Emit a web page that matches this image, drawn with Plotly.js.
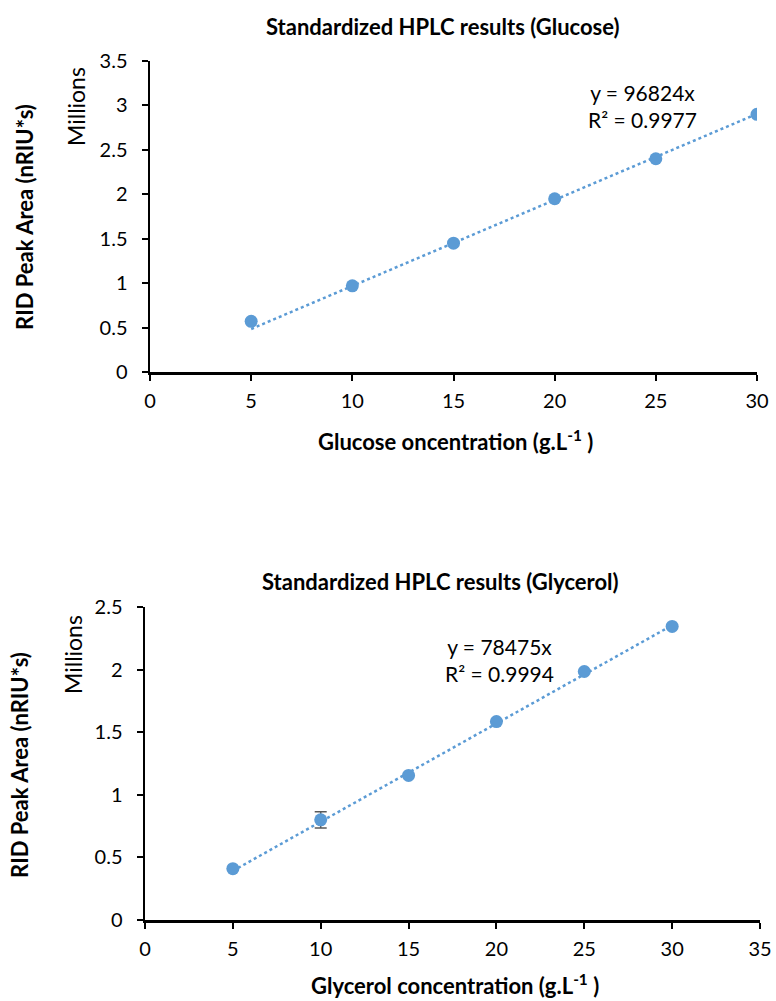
<!DOCTYPE html>
<html><head><meta charset="utf-8">
<script src="https://cdn.plot.ly/plotly-3.0.1.min.js"></script>
<style>html,body{margin:0;padding:0;background:#fff}</style>
</head><body><div id="chart" style="width:776px;height:1001px"></div>
<script>
// Glucose data (peak area in millions)
const glucoseConc = [5, 10, 15, 20, 25, 30];
const glucoseArea = [0.57, 0.97, 1.45, 1.95, 2.40, 2.90];
const glucoseSlope = 96824;   // trendline y = 96824x
const glucoseR2 = "0.9977";

// Glycerol data (peak area in millions)
const glycerolConc = [5, 10, 15, 20, 25, 30];
const glycerolArea = [0.41, 0.80, 1.155, 1.585, 1.985, 2.345];
const glycerolErr = [0, 0.065, 0, 0, 0, 0];
const glycerolSlope = 78475;  // trendline y = 78475x
const glycerolR2 = "0.9994";

const trendX = [5, 30];
const blue = '#5B9BD5';
const FONT = 'Lato, sans-serif';

const traces = [
  {x: trendX, y: trendX.map(v => v*glucoseSlope/1e6), xaxis:'x', yaxis:'y', mode:'lines',
   line:{color:blue, width:2.5, dash:'dot'}, hoverinfo:'skip'},
  {x: glucoseConc, y: glucoseArea, xaxis:'x', yaxis:'y', mode:'markers',
   marker:{color:blue, size:13}},
  {x: trendX, y: trendX.map(v => v*glycerolSlope/1e6), xaxis:'x2', yaxis:'y2', mode:'lines',
   line:{color:blue, width:2.5, dash:'dot'}, hoverinfo:'skip'},
  {x: glycerolConc, y: glycerolArea, xaxis:'x2', yaxis:'y2', mode:'markers',
   marker:{color:blue, size:13},
   error_y:{type:'data', array: glycerolErr, visible:true, color:'#595959', thickness:1.5, width:6}}
];

const axBase = {
  showline:true, linecolor:'#000', linewidth:2.5, showgrid:false, zeroline:false,
  ticks:'outside', ticklen:6, tickwidth:2, tickcolor:'#000',
  tickfont:{family:FONT, size:20, color:'#000'}, automargin:false, fixedrange:true
};

function ann(text, px, py, opts) {
  return Object.assign({text:text, x:px/776, y:1-py/1001, xref:'paper', yref:'paper',
    xanchor:'center', yanchor:'middle', showarrow:false,
    font:{family:FONT, size:21, color:'#000'}}, opts || {});
}
const boldFont = {family:FONT, size:22, color:'#000'};
const millFont = {family:FONT, size:23, color:'#000'};

const layout = {
  width:776, height:1001, showlegend:false,
  paper_bgcolor:'#fff', plot_bgcolor:'#fff',
  margin:{l:0, r:0, t:0, b:0},
  xaxis: Object.assign({}, axBase, {domain:[150/776, 757/776], range:[0,30], dtick:5, anchor:'y', ticklabelstandoff:3}),
  yaxis: Object.assign({}, axBase, {domain:[(1001-372)/1001, (1001-61)/1001], range:[0,3.5], dtick:0.5, anchor:'x', ticklabelstandoff:10}),
  xaxis2: Object.assign({}, axBase, {domain:[145/776, 760/776], range:[0,35], dtick:5, anchor:'y2', ticklabelstandoff:3}),
  yaxis2: Object.assign({}, axBase, {domain:[(1001-920)/1001, (1001-607)/1001], range:[0,2.5], dtick:0.5, anchor:'x2', ticklabelstandoff:10}),
  annotations: [
    ann('<b>Standardized HPLC results (Glucose)</b>', 443, 27, {font:boldFont}),
    ann('<b>Glucose oncentration (g.L<sup>-1</sup> )</b>', 455, 440, {font:boldFont}),
    ann('<b>RID Peak Area (nRIU*s)</b>', 24, 217, {textangle:-90, font:boldFont}),
    ann('Millions', 76, 107, {textangle:-90, font:millFont}),
    ann('y = ' + glucoseSlope + 'x<br>R² = ' + glucoseR2, 642, 106),

    ann('<b>Standardized HPLC results (Glycerol)</b>', 440, 581, {font:boldFont}),
    ann('<b>Glycerol concentration (g.L<sup>-1</sup> )</b>', 455, 984, {font:boldFont}),
    ann('<b>RID Peak Area (nRIU*s)</b>', 19, 765, {textangle:-90, font:boldFont}),
    ann('Millions', 73, 655, {textangle:-90, font:millFont}),
    ann('y = ' + glycerolSlope + 'x<br>R² = ' + glycerolR2, 499, 660)
  ]
};

Plotly.newPlot('chart', traces, layout, {staticPlot:true});
</script></body></html>
